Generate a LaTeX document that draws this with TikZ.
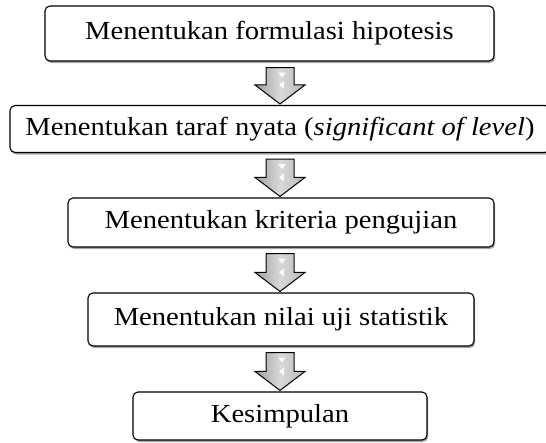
\documentclass[tikz,border=0pt]{standalone}
\usepackage{fontspec}
\setmainfont{Liberation Serif}[FakeStretch=1.1]
\usetikzlibrary{calc,shadows}
\tikzset{
  stepbox/.style={draw=black, line width=1.1pt, rounded corners=5pt, fill=white,
    inner sep=0pt, align=center, font=\fontsize{26}{30}\selectfont,
    drop shadow={shadow xshift=1.2pt, shadow yshift=-2pt, opacity=0.35, fill=black}},
  blockarrow/.style={draw=black, line width=1pt, line join=miter,
    left color=gray!75, right color=gray!55, middle color=gray!30},
  hilite/.style={fill=white, draw=none, opacity=0.85}
}
\newcommand\blkarrow[2]{%
  \draw[blockarrow] let \p1=(#1), \p2=(#2), \n1={\y2+19pt} in
    (\x1-14pt,\y1) -- (\x1+14pt,\y1) -- (\x1+14pt,\n1) -- (\x1+25pt,\n1) --
    (\x2,\y2) -- (\x1-25pt,\n1) -- (\x1-14pt,\n1) -- cycle;
  \fill[hilite] let \p1=(#1), \p2=(#2) in
    (\x1-2pt,\y1-5pt) -- (\x1+6pt,\y1-5pt) -- (\x1+2pt,\y1-10pt) -- cycle;
  \fill[hilite] let \p1=(#1), \p2=(#2), \n1={\y2+19pt} in
    (\x1+4pt,\n1+4pt) -- (\x1+4pt,\n1-4pt) -- (\x1-1pt,\n1) -- cycle;
}
\begin{document}
\begin{tikzpicture}[x=1pt,y=-1pt]
\useasboundingbox (0,0) rectangle (546,442);
\coordinate (axis) at (280,0);
\node[stepbox, minimum width=449pt, minimum height=55pt] (b1) at (269.5,33.5) {Menentukan formulasi hipotesis};
\node[stepbox, minimum width=540pt, minimum height=47pt] (b2) at (280,129) {Menentukan taraf nyata (\textit{significant of level})};
\node[stepbox, minimum width=426pt, minimum height=49pt] (b3) at (281,222.5) {Menentukan kriteria pengujian};
\node[stepbox, minimum width=386pt, minimum height=53pt] (b4) at (281,319.5) {Menentukan nilai uji statistik};
\node[stepbox, minimum width=294pt, minimum height=48pt] (b5) at (280,416) {Kesimpulan};
\coordinate (a1t) at ($(b1.south -| axis)+(0,6)$);
\coordinate (a1p) at ($(b2.north -| axis)+(0,-1)$);
\coordinate (a2t) at ($(b2.south -| axis)+(0,6)$);
\coordinate (a2p) at ($(b3.north -| axis)+(0,-1)$);
\coordinate (a3t) at ($(b3.south -| axis)+(0,6)$);
\coordinate (a3p) at ($(b4.north -| axis)+(0,-1)$);
\coordinate (a4t) at ($(b4.south -| axis)+(0,6)$);
\coordinate (a4p) at ($(b5.north -| axis)+(0,-1)$);
\blkarrow{a1t}{a1p}
\blkarrow{a2t}{a2p}
\blkarrow{a3t}{a3p}
\blkarrow{a4t}{a4p}
\end{tikzpicture}
\end{document}
